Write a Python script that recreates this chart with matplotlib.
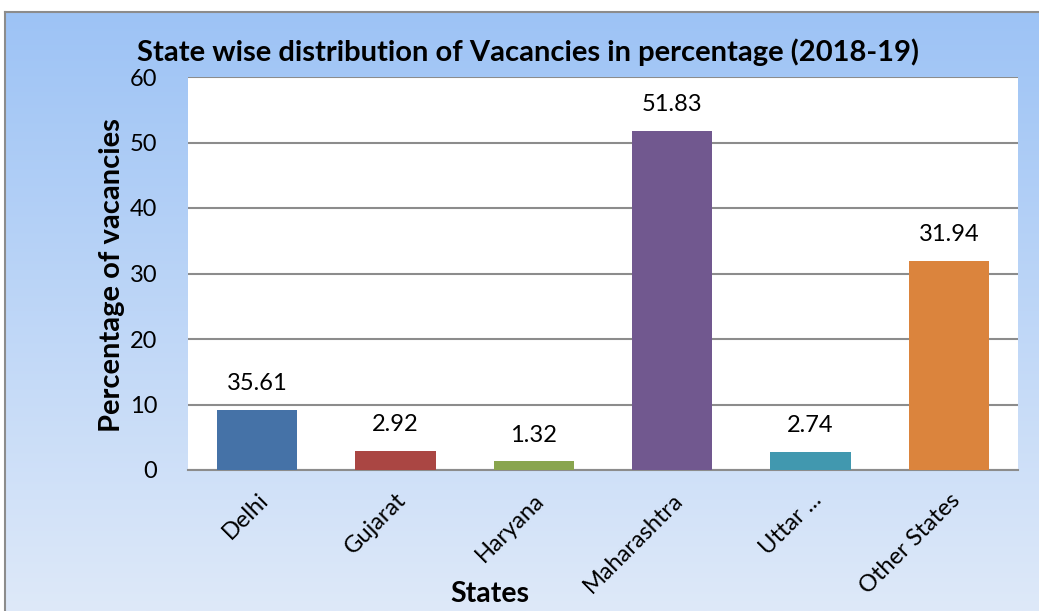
import numpy as np
import matplotlib.pyplot as plt

plt.rcParams['font.family'] = ['Lato', 'DejaVu Sans']

states = ['Delhi', 'Gujarat', 'Haryana', 'Maharashtra', 'Uttar ...', 'Other States']
bar_heights = [9.2, 2.92, 1.32, 51.83, 2.74, 31.94]     # drawn bar heights
labels = ['35.61', '2.92', '1.32', '51.83', '2.74', '31.94']   # printed data labels
colors = ['#4572A7', '#AA4643', '#89A54E', '#71588F', '#4198AF', '#DB843D']

fig = plt.figure(figsize=(10.39, 6.11), dpi=100)
fig.patch.set_facecolor('white')

# gradient background frame
bg = fig.add_axes([5/1039, 0, 1 - 5/1039, 1 - 12/611])
grad = np.linspace(0, 1, 256).reshape(-1, 1)
top = np.array([157, 195, 245]) / 255
bot = np.array([222, 233, 249]) / 255
img = top + (bot - top) * grad[:, :, None]
bg.imshow(img, aspect='auto', extent=[0, 1, 0, 1])
bg.set_xticks([])
bg.set_yticks([])
for s in ['right', 'bottom']:
    bg.spines[s].set_visible(False)
for s in ['left', 'top']:
    bg.spines[s].set_color('#8c8c8c')
    bg.spines[s].set_linewidth(1.5)

ax = fig.add_axes([188/1039, 1 - 470/611, 830/1039, 393/611])
ax.set_facecolor('white')
x = np.arange(len(states))
ax.bar(x, bar_heights, width=0.58, color=colors, zorder=3)
for xi, h, lab in zip(x, bar_heights, labels):
    ax.text(xi, h + 2.4, lab, ha='center', va='bottom', fontsize=17)

ax.set_ylim(0, 60)
ax.set_xlim(-0.5, len(states) - 0.5)
ax.set_yticks(range(0, 61, 10))
ax.yaxis.grid(True, color='#8c8c8c', linewidth=1.5, zorder=0)
ax.tick_params(axis='both', length=0, labelsize=17)
ax.tick_params(axis='y', pad=22)
ax.set_xticks(x)
ax.set_xticklabels(states, rotation=45, ha='right', va='top', rotation_mode='anchor')
ax.tick_params(axis='x', pad=14)
for s in ['left', 'right', 'top']:
    ax.spines[s].set_visible(False)
ax.spines['bottom'].set_color('#8c8c8c')
ax.spines['bottom'].set_linewidth(1.5)

fig.text(112/1039, 1 - 275/611, 'Percentage of vacancies', fontsize=21, fontweight='bold',
         rotation=90, ha='center', va='center')
fig.text(490/1039, 1 - 594/611, 'States', fontsize=20.5, fontweight='bold', ha='center', va='center')
fig.text(528/1039, 1 - 52/611, 'State wise distribution of Vacancies in percentage (2018-19)',
         fontsize=21, fontweight='bold', ha='center', va='center')

fig.savefig('out.png', dpi=100)
